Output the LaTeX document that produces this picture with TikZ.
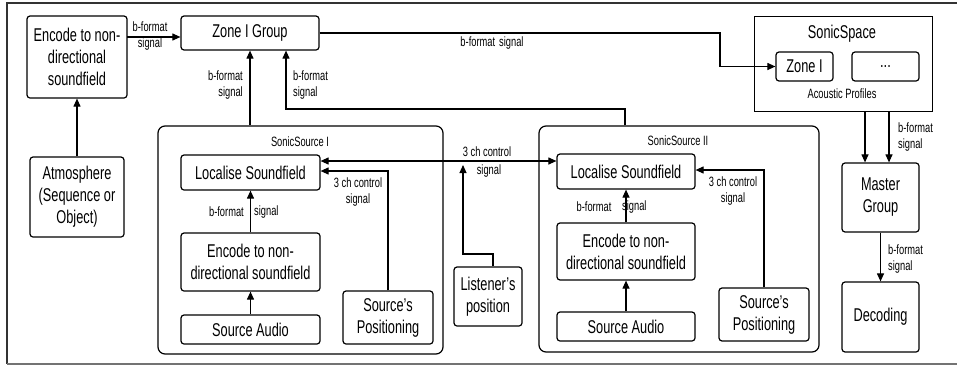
\documentclass[tikz,border=0pt]{standalone}
\usepackage{fontspec}
\setmainfont{Liberation Sans}[FakeStretch=0.69]
\usetikzlibrary{arrows.meta}
\newcommand\bigtxt{\fontsize{18.5}{22}\selectfont}
\newcommand\smalltxt{\fontsize{13.5}{15}\selectfont}
\tikzset{
  box/.style={draw, line width=1.2pt, rounded corners=3pt, inner sep=0pt, align=center, font=\bigtxt},
  sqbox/.style={box, rounded corners=0pt, line width=0.9pt},
  container/.style={draw, line width=1.2pt, rounded corners=7pt, inner sep=0pt},
  lbl/.style={font=\smalltxt, inner sep=0pt},
  ttl/.style={font=\bigtxt, inner sep=0pt},
  arr/.style={draw, line width=1.1pt, -{Triangle[length=8pt,width=7pt]}},
  arrtwo/.style={draw, line width=1.1pt, {Triangle[length=8pt,width=7pt]}-{Triangle[length=8pt,width=7pt]}},
  plain/.style={draw, line width=1pt}
}
\begin{document}
\begin{tikzpicture}[x=1pt,y=-1pt]
\useasboundingbox (0,0) rectangle (957,370);
% frame
\draw[black!80, line width=1.2pt] (957,3) -- (7,3) -- (7,364);
\draw[black!55, line width=2.5pt] (7,364) -- (957,364);

% containers
\node[container, minimum width=285pt, minimum height=228pt] (ss1) at (300.5,240) {};
\node[container, minimum width=280pt, minimum height=226pt] (ss2) at (679,239) {};
\node[sqbox, minimum width=178pt, minimum height=95pt] (space) at (843,63.5) {};

% titles
\node[lbl] (t1) at (300,142) {SonicSource I};
\node[lbl] (t2) at (678,141) {SonicSource II};
\node[ttl] (t3) at (842,34) {SonicSpace};
\node[lbl] (t4) at (842,94) {Acoustic Profiles};

% boxes
\node[box, minimum width=100pt, minimum height=82pt] (enc) at (77,57) {Encode to non-\\directional\\soundfield};
\node[box, minimum width=94pt, minimum height=80pt] (atm) at (77,197) {Atmosphere\\(Sequence or\\Object)};
\node[box, minimum width=138pt, minimum height=34pt] (zone) at (250,33) {Zone I Group};
\node[box, minimum width=57pt, minimum height=29pt] (zonei) at (804.5,66.5) {Zone I};
\node[box, minimum width=67pt, minimum height=29pt] (dots) at (885.5,66.5) {...};
\node[box, minimum width=77pt, minimum height=69pt] (master) at (880.5,197.5) {Master\\Group};
\node[box, minimum width=77pt, minimum height=70pt] (dec) at (880.5,317) {Decoding};

\node[box, minimum width=139pt, minimum height=35pt] (loc1) at (250.5,172.5) {Localise Soundfield};
\node[box, minimum width=139pt, minimum height=58pt] (enc1) at (250.5,262) {Encode to non-\\directional soundfield};
\node[box, minimum width=139pt, minimum height=29pt] (aud1) at (250.5,329.5) {Source Audio};
\node[box, minimum width=90pt, minimum height=53pt] (pos1) at (388,317.5) {Source’s\\Positioning};

\node[box, minimum width=68pt, minimum height=59pt] (lis) at (488,296.5) {Listener’s\\position};

\node[box, minimum width=138pt, minimum height=35pt] (loc2) at (626,171.5) {Localise Soundfield};
\node[box, minimum width=138pt, minimum height=57pt] (enc2) at (626,251.5) {Encode to non-\\directional soundfield};
\node[box, minimum width=138pt, minimum height=29pt] (aud2) at (626,326.5) {Source Audio};
\node[box, minimum width=90pt, minimum height=53pt] (pos2) at (764,314.5) {Source’s\\Positioning};

% connectors
\draw[arr] (atm) -- (enc);
\coordinate (e1) at (127,37);
\draw[arr] (e1) -- (e1 -| zone.west);
\node[lbl] (l1a) at (150,27) {b-format};
\node[lbl] (l1b) at (150,44) {signal};

\draw[arr] (zone.south |- ss1.north) -- (zone.south);
\node[lbl, anchor=east] (l2a) at (243,76) {b-format};
\node[lbl, anchor=east] (l2b) at (243,93) {signal};

\coordinate (j1) at (625,109);
\coordinate (j2) at (286,109);
\draw[arr] (j1 |- ss2.north) -- (j1) -- (j2) -- (j2 |- zone.south);
\node[lbl, anchor=west] (l3a) at (293,76) {b-format};
\node[lbl, anchor=west] (l3b) at (293,93) {signal};

\coordinate (k) at (720,33);
\draw[arr] (zone.east) -- (k) -- (k |- zonei.west) -- (zonei.west);
\node[lbl] (l4) at (492,43) {b-format\hspace{4pt}signal};

\coordinate (m1) at (865,111);
\coordinate (m2) at (889,111);
\draw[arr] (m1 |- space.south) -- (m1 |- master.north);
\draw[arr] (m2 |- space.south) -- (m2 |- master.north);
\node[lbl, anchor=west] (l5a) at (898,128) {b-format};
\node[lbl, anchor=west] (l5b) at (898,145) {signal};

\draw[arr] (master) -- (dec);
\node[lbl, anchor=west] (l6a) at (888,250) {b-format};
\node[lbl, anchor=west] (l6b) at (888,267) {signal};

% SonicSource I internals
\draw[arr] (enc1) -- (loc1);
\node[lbl, anchor=east] (l7a) at (244,212) {b-format};
\node[lbl, anchor=west] (l7b) at (254,212) {signal};
\draw[arr] (aud1) -- (enc1);
\coordinate (p1) at (388,171);
\draw[arr] (pos1.north) -- (p1) -- (p1 -| loc1.east);
\node[lbl] (l8a) at (358,183) {3 ch control};
\node[lbl] (l8b) at (358,200) {signal};

% between sources
\coordinate (d1) at (400,161);
\draw[arrtwo] (d1 -| loc1.east) -- (d1 -| loc2.west);
\node[lbl] (l9a) at (487,152) {3 ch control};
\node[lbl] (l9b) at (489,171) {signal};

\coordinate (q1) at (493,254);
\coordinate (q2) at (463,254);
\coordinate (q3) at (463,165);
\draw[arr] (q1 |- lis.north) -- (q1) -- (q2) -- (q3);

% SonicSource II internals
\draw[arr] (enc2) -- (loc2);
\node[lbl] (l10a) at (594,207) {b-format};
\node[lbl, anchor=west] (l10b) at (622,207) {signal};
\draw[arr] (aud2) -- (enc2);
\coordinate (p2) at (764,170);
\draw[arr] (pos2.north) -- (p2) -- (p2 -| loc2.east);
\node[lbl] (l11a) at (733,182) {3 ch control};
\node[lbl] (l11b) at (733,199) {signal};
\end{tikzpicture}
\end{document}
